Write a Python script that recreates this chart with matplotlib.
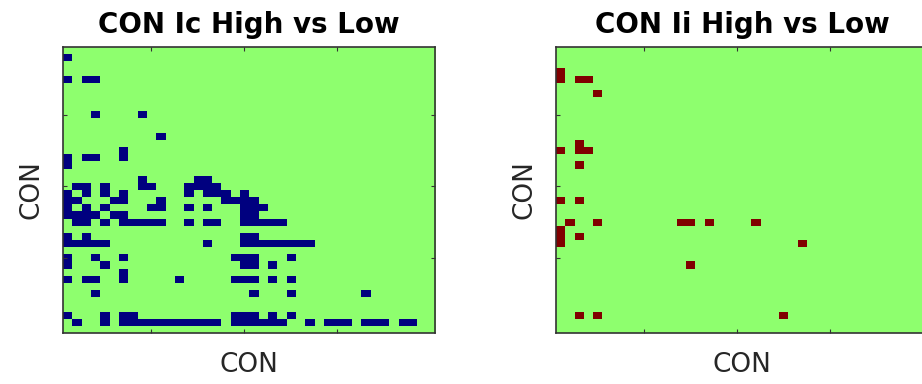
import numpy as np
import matplotlib
matplotlib.use("Agg")
import matplotlib.pyplot as plt
from matplotlib.colors import ListedColormap

N = 40  # CON x CON grid

# significant cells, given as (row, list of cols); -1 = Low > High (blue)
ic_cells = {
    1: [0],
    4: [0, 2, 3],
    9: [3, 8],
    12: [10],
    14: [6],
    15: [0, 2, 3, 6],
    16: [0],
    18: [8, 14, 15],
    19: [1, 2, 4, 8, 9, 13, 14, 15, 16],
    20: [0, 2, 4, 6, 13, 15, 16, 17, 19],
    21: [0, 1, 5, 6, 10, 17, 18, 19, 20],
    22: [0, 2, 4, 9, 10, 13, 15, 19, 20, 21],
    23: [0, 1, 2, 3, 5, 6, 19, 20],
    24: [1, 2, 4, 6, 7, 8, 9, 10, 13, 15, 16, 19, 20, 21, 22, 23],
    26: [0, 2, 19, 20],
    27: [0, 1, 2, 3, 4, 15, 19, 20, 21, 22, 23, 24, 25, 26],
    29: [0, 3, 6, 18, 19, 20, 24],
    30: [0, 4, 19, 20, 22],
    31: [6],
    32: [0, 2, 3, 6, 12, 18, 19, 20, 22, 24],
    34: [3, 20, 24, 32],
    37: [0, 4, 6, 7, 18, 19, 20, 22, 24],
    38: [1, 4, 6, 7, 8, 9, 10, 11, 12, 13, 14, 15, 16, 18, 19, 20, 21, 22, 23,
         26, 28, 29, 30, 32, 33, 34, 36, 37],
}

# +1 = High > Low (red)
ii_cells = {
    3: [0],
    4: [0, 2, 3],
    6: [4],
    13: [2],
    14: [0, 2, 3],
    16: [2],
    21: [0, 2],
    24: [1, 4, 13, 14, 16, 21],
    25: [0],
    26: [0, 2],
    27: [0, 26],
    30: [14],
    37: [2, 4, 24],
}

titles = ["CON Ic High vs Low", "CON Ii High vs Low"]
signs = [-1, 1]


def build(cells, sign):
    m = np.zeros((N, N))
    for r, cols in cells.items():
        m[r, cols] = sign
    return m


mats = [build(ic_cells, signs[0]), build(ii_cells, signs[1])]

cmap = ListedColormap(["#00007f", "#8eff6e", "#800000"])

fig = plt.figure(figsize=(9.22, 3.84), dpi=100)
lefts = [63 / 922, 556 / 922]
for i in range(2):
    ax = fig.add_axes([lefts[i], 51 / 384, 372 / 922, 286 / 384])
    ax.imshow(mats[i], cmap=cmap, vmin=-1, vmax=1, aspect="auto",
              interpolation="nearest", extent=(0.5, N + 0.5, N + 0.5, 0.5))
    ax.set_xticks([10, 20, 30])
    ax.set_yticks([10, 20, 30])
    ax.tick_params(direction="in", length=3, width=0.8, color="#333333",
                   top=True, right=True, labelbottom=False, labelleft=False)
    for s in ax.spines.values():
        s.set_color("#333333")
        s.set_linewidth(1.2)
    ax.set_title(titles[i], fontsize=20, fontweight="bold", pad=10)
    ax.set_xlabel("CON", fontsize=19, color="#262626", labelpad=14)
    ax.set_ylabel("CON", fontsize=19, color="#262626", labelpad=13)

fig.savefig("out.png", dpi=100)
